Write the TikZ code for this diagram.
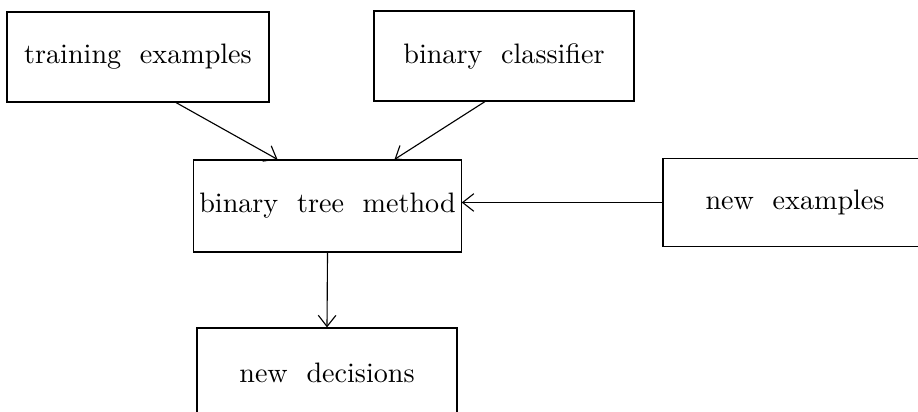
\documentclass[tikz,border=0pt]{standalone}
\usetikzlibrary{calc,arrows.meta}
\tikzset{box/.style={draw,rectangle,inner sep=0pt,minimum height=1.125cm}}
\begin{document}
\begin{tikzpicture}[x=0.0125cm,y=-0.0125cm,>={Straight Barb[length=1.4mm,width=2.2mm]}]
		\clip (0,0) rectangle (918,412);
		\node[box,minimum width=3.275cm] (train) at (138,57) {training\ \ examples};
		\node[box,minimum width=3.25cm] (clf) at (504,56) {binary\ \ classifier};
		\node[box,minimum width=3.34cm,minimum height=1.15cm] (tree) at (327.5,206) {binary\ \ tree\ \ method};
		\node[box,minimum width=3.3cm,minimum height=1.11cm] (newex) at (795,202.5) {new\ \ examples};
		\node[box,minimum width=3.25cm] (newdec) at (327,373) {new\ \ decisions};
		
		\draw[->] ($(train.south)+(38,0)$)--($(tree.north)+(-50,0)$);
		\draw[->] ($(clf.south)+(-19,0)$)--($(tree.north)+(67,0)$);
		\draw[->] (newex.west)--(newex.west -| tree.east);
		\draw[->] (tree.south)--(newdec.north);
	\end{tikzpicture}
\end{document}
